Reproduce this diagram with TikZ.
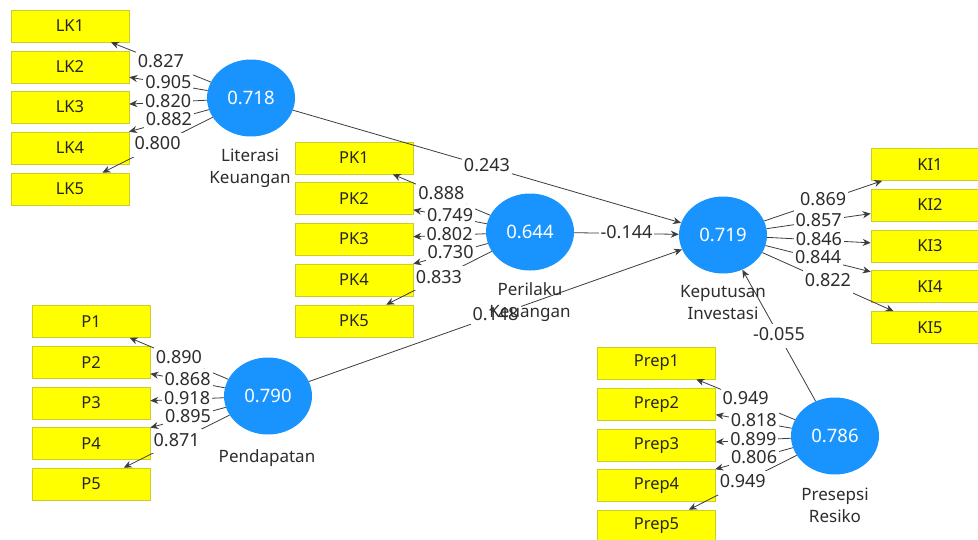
\documentclass[tikz,border=0pt]{standalone}
\usepackage{fontspec}
\setmainfont{Noto Sans}
\usetikzlibrary{shapes.geometric,arrows.meta}
\definecolor{lvblue}{RGB}{25,148,255}
\definecolor{indyel}{RGB}{255,255,0}
\definecolor{indborder}{RGB}{205,205,40}
\definecolor{linegray}{RGB}{60,60,60}
\definecolor{txtdark}{RGB}{45,45,45}
\tikzset{
 lv/.style={ellipse, fill=lvblue, draw=none, minimum width=88pt, minimum height=77pt, inner sep=0pt, text=white, font=\fontsize{18.5}{22}\selectfont},
 ind/.style={rectangle, fill=indyel, draw=indborder, line width=0.6pt, minimum width=118pt, minimum height=32pt, inner sep=0pt, font=\fontsize{16.5}{20}\selectfont, text=black!85},
 lvname/.style={align=center, font=\fontsize{17}{22}\selectfont, text=txtdark},
 conn/.style={draw=linegray, line width=0.8pt, -{Stealth[length=8pt,width=7pt]}},
 lbl/.style={fill=white, inner xsep=2pt, inner ysep=3pt, text height=14pt, text depth=4pt, font=\fontsize{18}{20}\selectfont, text=txtdark},
}
\begin{document}
\begin{tikzpicture}[x=1pt,y=-1pt]
\useasboundingbox (0,0) rectangle (978,539);
\clip (0,0) rectangle (978,539);
\fill[white] (0,0) rectangle (978,539);

% latent variables
\node[lv] (lk) at (251,98) {0.718};
\node[lv] (pk) at (530,232) {0.644};
\node[lv] (pd) at (268,396) {0.790};
\node[lv] (ki) at (723,235) {0.719};
\node[lv] (pr) at (835,436) {0.786};

% indicators LK
\node[ind] (lk1) at (70,26) {LK1};
\node[ind] (lk2) at (70,67) {LK2};
\node[ind] (lk3) at (70,107) {LK3};
\node[ind] (lk4) at (70,148) {LK4};
\node[ind] (lk5) at (70,189) {LK5};
% indicators PK
\node[ind] (pk1) at (354,158) {PK1};
\node[ind] (pk2) at (354,198.5) {PK2};
\node[ind] (pk3) at (354,239) {PK3};
\node[ind] (pk4) at (354,280) {PK4};
\node[ind] (pk5) at (354,321) {PK5};
% indicators P
\node[ind] (p1) at (91,321.5) {P1};
\node[ind] (p2) at (91,362.5) {P2};
\node[ind] (p3) at (91,403) {P3};
\node[ind] (p4) at (91,443.5) {P4};
\node[ind] (p5) at (91,484) {P5};
% indicators KI
\node[ind] (ki1) at (930,164.5) {KI1};
\node[ind] (ki2) at (930,205) {KI2};
\node[ind] (ki3) at (930,246) {KI3};
\node[ind] (ki4) at (930,286.5) {KI4};
\node[ind] (ki5) at (930,327.5) {KI5};
% indicators Prep
\node[ind] (pr1) at (656.5,363) {Prep1};
\node[ind] (pr2) at (656.5,404) {Prep2};
\node[ind] (pr3) at (656.5,445) {Prep3};
\node[ind] (pr4) at (656.5,485.5) {Prep4};
\node[ind] (pr5) at (656.5,526) {Prep5};

% outer loadings
\draw[conn] (lk) -- node[lbl] (l1) {0.827} (lk1);
\draw[conn] (lk) -- node[lbl] (l2) {0.905} (lk2);
\draw[conn] (lk) -- node[lbl] (l3) {0.820} (lk3);
\draw[conn] (lk) -- node[lbl] (l4) {0.882} (lk4);
\draw[conn] (lk) -- node[lbl] (l5) {0.800} (lk5);

\draw[conn] (pk) -- node[lbl] (k1) {0.888} (pk1);
\draw[conn] (pk) -- node[lbl] (k2) {0.749} (pk2);
\draw[conn] (pk) -- node[lbl] (k3) {0.802} (pk3);
\draw[conn] (pk) -- node[lbl] (k4) {0.730} (pk4);
\draw[conn] (pk) -- node[lbl] (k5) {0.833} (pk5);

\draw[conn] (pd) -- node[lbl] (d1) {0.890} (p1);
\draw[conn] (pd) -- node[lbl] (d2) {0.868} (p2);
\draw[conn] (pd) -- node[lbl] (d3) {0.918} (p3);
\draw[conn] (pd) -- node[lbl] (d4) {0.895} (p4);
\draw[conn] (pd) -- node[lbl] (d5) {0.871} (p5);

\draw[conn] (ki) -- node[lbl] (i1) {0.869} (ki1);
\draw[conn] (ki) -- node[lbl] (i2) {0.857} (ki2);
\draw[conn] (ki) -- node[lbl] (i3) {0.846} (ki3);
\draw[conn] (ki) -- node[lbl] (i4) {0.844} (ki4);
\draw[conn] (ki) -- node[lbl] (i5) {0.822} (ki5);

\draw[conn] (pr) -- node[lbl] (r1) {0.949} (pr1);
\draw[conn] (pr) -- node[lbl] (r2) {0.818} (pr2);
\draw[conn] (pr) -- node[lbl] (r3) {0.899} (pr3);
\draw[conn] (pr) -- node[lbl] (r4) {0.806} (pr4);
\draw[conn] (pr) -- node[lbl] (r5) {0.949} (pr5);

% structural paths
\draw[conn] (lk) -- node[lbl] (s1) {0.243} (ki);
\draw[conn] (pk) -- node[lbl] (s2) {-0.144} (ki);
\draw[conn] (pd) -- node[lbl] (s3) {0.148} (ki);
\draw[conn] (pr) -- node[lbl] (s4) {-0.055} (ki);

% latent names
\node[lvname] (lkname) at (250,168) {Literasi\\Keuangan};
\node[lvname] (pkname) at (530,302) {Perilaku\\Keuangan};
\node[lvname] (pdname) at (267,458) {Pendapatan};
\node[lvname] (kiname) at (723,302.5) {Keputusan\\Investasi};
\node[lvname] (prname) at (835,505.5) {Presepsi\\Resiko};
\end{tikzpicture}
\end{document}
